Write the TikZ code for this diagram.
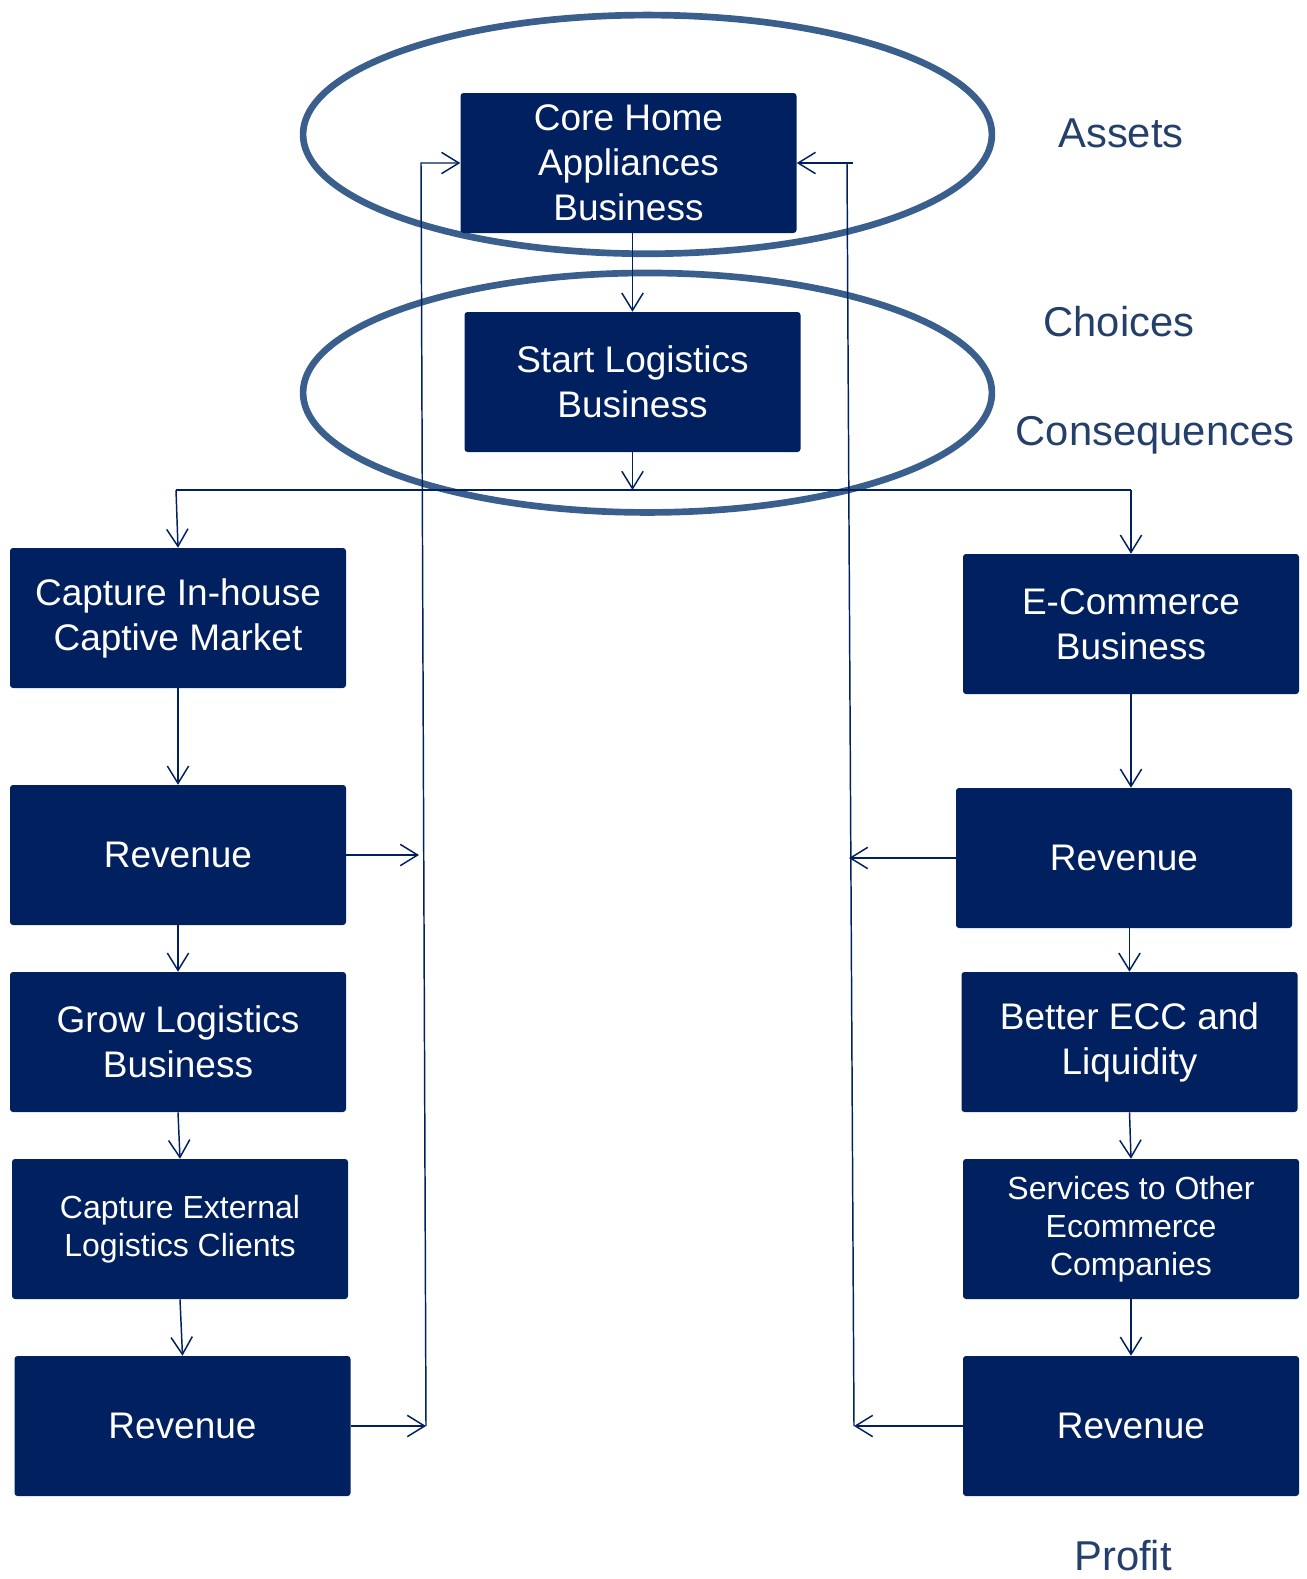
\documentclass[tikz,border=0pt]{standalone}
\usepackage{fontspec}
\setmainfont{Liberation Sans}
\usetikzlibrary{arrows.meta}
\definecolor{navy}{HTML}{002060}
\definecolor{ringblue}{HTML}{3A5F8D}
\definecolor{tierlabel}{HTML}{24406A}

\begin{document}
\begin{tikzpicture}[x=0.75pt,y=-0.75pt,
  block/.style={fill=navy, rounded corners=2.25pt, minimum width=252pt,
    minimum height=105pt, inner sep=0pt, text=white, align=center,
    font=\fontsize{27.75pt}{33.75pt}\selectfont},
  smallblock/.style={block, font=\fontsize{24pt}{28.5pt}\selectfont},
  ring/.style={draw=ringblue, line width=5pt},
  link/.style={draw=navy, line width=1.1pt},
  arr/.style={link, -{Straight Barb[length=13pt,width=16pt]}},
  tier/.style={text=tierlabel, font=\fontsize{31.3pt}{37pt}\selectfont}]

\useasboundingbox (0,0) rectangle (1307,1579);

% rings around the asset and choice tiers
\draw[ring] (647.5,134.4) ellipse [x radius=258.3pt, y radius=89.5pt];
\draw[ring] (647.5,392.7) ellipse [x radius=258.3pt, y radius=89.8pt];

% central chain
\node[block] (core)  at (628.5,163) {Core Home\\Appliances\\Business};
\node[block] (start) at (632.5,382) {Start Logistics\\Business};

% left branch
\node[block]      (capin) at (178,618)    {Capture In-house\\Captive Market};
\node[block]      (revL1) at (178,855)    {Revenue};
\node[block]      (grow)  at (178,1042)   {Grow Logistics\\Business};
\node[smallblock] (capex) at (180,1229)   {Capture External\\Logistics Clients};
\node[block]      (revL2) at (182.5,1426) {Revenue};

% right branch
\node[block]      (ecom)  at (1131,624)   {E-Commerce\\Business};
\node[block]      (revR1) at (1124,858)   {Revenue};
\node[block]      (ecc)   at (1129.5,1042){Better ECC and\\Liquidity};
\node[smallblock] (serv)  at (1131,1229)  {Services to Other\\Ecommerce\\Companies};
\node[block]      (revR2) at (1131,1426)  {Revenue};

% tier labels
\node[tier] (assets)  at (1121,133)  {Assets};
\node[tier] (choices) at (1119,322)  {Choices};
\node[tier] (conseq)  at (1155,435)  {Consequences};
\node[tier] (profit)  at (1123,1556) {Profit};

% split bar below the logistics choice
\coordinate (jL) at (176,490);
\coordinate (jM) at (632.5,490);
\coordinate (jR) at (1131,490);

% feedback rails back to the core business
\coordinate (lt)  at (421,163);
\coordinate (lm)  at (419,855);
\coordinate (lb)  at (426,1426);
\coordinate (rt)  at (847,163);
\coordinate (rt2) at (853,163);
\coordinate (rm)  at (849,858);
\coordinate (rb)  at (854,1426);

\draw[arr] (start.north |- core.south) -- (start.north);
\draw[arr] (start.south) -- (jM);
\draw[link] (jL) -- (jR);
\draw[arr] (jL) -- (capin.north);
\draw[arr] (jR) -- (ecom.north);

\draw[arr] (capin.south) -- (revL1.north);
\draw[arr] (revL1.south) -- (grow.north);
\draw[arr] (grow.south) -- (capex.north);
\draw[arr] (capex.south) -- (revL2.north);

\draw[arr] (ecom.south) -- (ecom.south |- revR1.north);
\draw[arr] (ecc.north |- revR1.south) -- (ecc.north);
\draw[arr] (ecc.south) -- (serv.north);
\draw[arr] (serv.south) -- (revR2.north);

\draw[arr] (revL1.east) -- (lm);
\draw[arr] (revL2.east) -- (lb);
\draw[arr] (lb) -- (lt) -- (core.west);

\draw[arr] (revR1.west) -- (rm);
\draw[arr] (revR2.west) -- (rb);
\draw[link] (rb) -- (rt);
\draw[arr] (rt2) -- (core.east);
\end{tikzpicture}
\end{document}
